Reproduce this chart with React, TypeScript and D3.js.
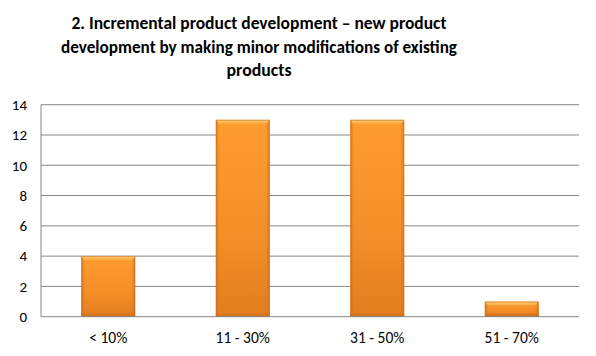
import React from "react";
import * as d3 from "d3";

const categories = ["< 10%", "11 - 30%", "31 - 50%", "51 - 70%"];
const values = [4, 13, 13, 1];
const yTicks = [0, 2, 4, 6, 8, 10, 12, 14];
const titleLines = [
  "2. Incremental product development \u2013 new product",
  "development by making minor modifications of existing",
  "products",
];
const titleWidths = [375, 396, 65];

const W = 596, H = 356;
const left = 41, right = 579, top = 104.7, bottom = 316.7;

export default function App() {
  const x = d3.scaleBand<string>().domain(categories).range([left, right]).paddingInner(0.6).paddingOuter(0.3);
  const y = d3.scaleLinear().domain([0, 14]).range([bottom, top]);
  const font = "Carlito, Calibri, 'Open Sans', 'Liberation Sans', sans-serif";
  const cx = 259;
  return (
    <svg width={W} height={H} style={{ position: "absolute", left: 0, top: 0, background: "#fff" }}>
      <defs>
        <linearGradient id="body" x1="0" y1="0" x2="0" y2="1">
          <stop offset="0" stopColor="#FF9C30" />
          <stop offset="0.6" stopColor="#F48E28" />
          <stop offset="1" stopColor="#E27D1F" />
        </linearGradient>
        <linearGradient id="side" x1="0" y1="0" x2="1" y2="0">
          <stop offset="0" stopColor="#C9691A" stopOpacity="0.6" />
          <stop offset="0.07" stopColor="#C9691A" stopOpacity="0" />
          <stop offset="0.93" stopColor="#C9691A" stopOpacity="0" />
          <stop offset="1" stopColor="#C9691A" stopOpacity="0.6" />
        </linearGradient>
        <linearGradient id="topb" x1="0" y1="0" x2="0" y2="1">
          <stop offset="0" stopColor="#FFD27A" />
          <stop offset="1" stopColor="#FBA53C" />
        </linearGradient>
      </defs>
      {titleLines.map((t, i) => (
        <text key={i} x={cx} y={29 + i * 23.5} textAnchor="middle"
          fontFamily={font} fontWeight="bold" fontSize={18} fill="#000"
          textLength={titleWidths[i]} lengthAdjust="spacingAndGlyphs">
          {t}
        </text>
      ))}
      {yTicks.map((t) => (
        <g key={t}>
          {t > 0 && <line x1={left} x2={right} y1={y(t)} y2={y(t)} stroke="#868686" strokeWidth={1} />}
          <text x={27} y={y(t)} dy="0.35em" textAnchor="end" fontFamily={font} fontSize={15} fill="#000">{t}</text>
        </g>
      ))}
      <line x1={left} x2={left} y1={top} y2={bottom} stroke="#868686" />
      {categories.map((c, i) => {
        const bx = x(c)!, bw = x.bandwidth(), by = y(values[i]), bh = y(0) - y(values[i]);
        const tb = Math.min(4, bh / 3);
        return (
          <g key={c}>
            <rect x={bx} y={by} width={bw} height={bh} fill="url(#body)" />
            <rect x={bx} y={by} width={bw} height={bh} fill="url(#side)" />
            <polygon points={`${bx},${by} ${bx + bw},${by} ${bx + bw - 3},${by + tb} ${bx + 3},${by + tb}`} fill="url(#topb)" />
            <rect x={bx} y={by + bh - 3} width={bw} height={3} fill="#C96B1C" opacity={0.45} />
            <rect x={bx + 0.5} y={by + 0.5} width={bw - 1} height={bh - 1} fill="none" stroke="#C8731F" strokeOpacity={0.6} />
          </g>
        );
      })}
      <line x1={left} x2={right} y1={bottom} y2={bottom} stroke="#868686" />
      {categories.map((c) => (
        <text key={c} x={x(c)! + x.bandwidth() / 2} y={338} dy="0.35em" textAnchor="middle" fontFamily={font} fontSize={15.5} fill="#000">{c}</text>
      ))}
    </svg>
  );
}
